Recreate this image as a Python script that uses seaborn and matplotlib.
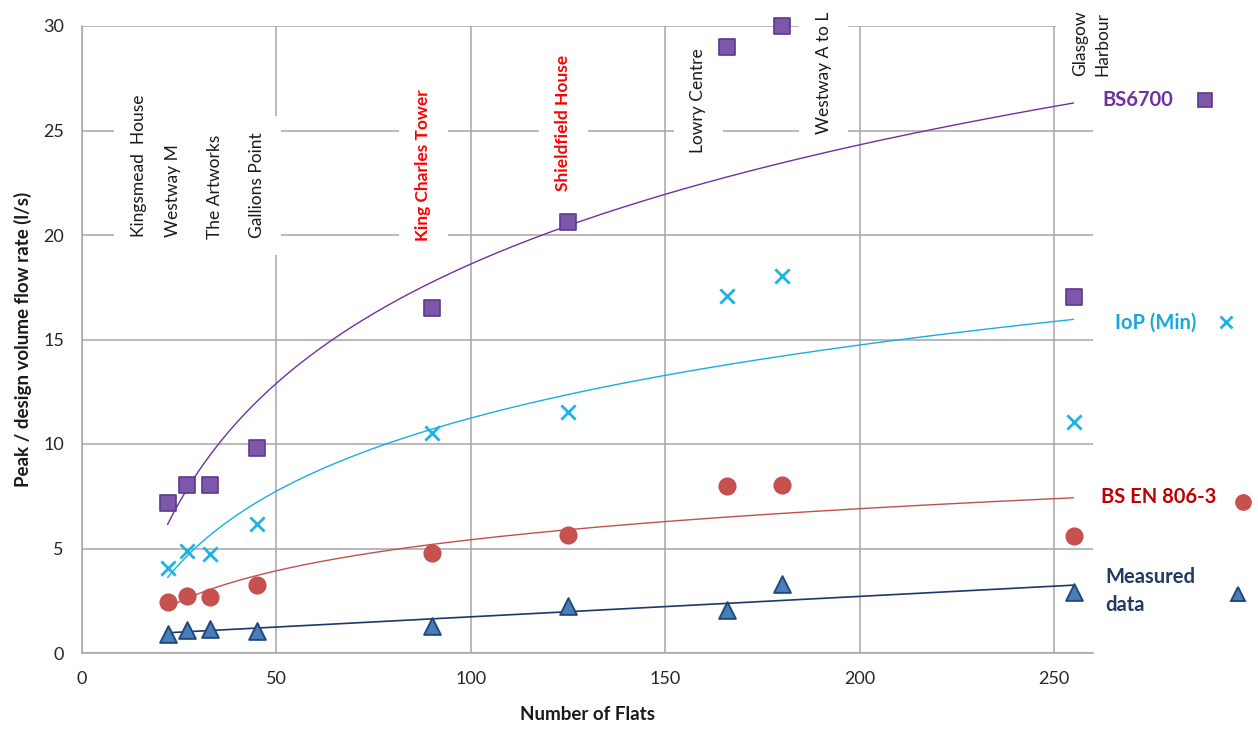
import numpy as np
import pandas as pd
import matplotlib
matplotlib.use("Agg")
import matplotlib.pyplot as plt
import seaborn as sns
from matplotlib.lines import Line2D
from matplotlib.ticker import MultipleLocator

# ---------------- data ----------------
flats = [22, 27, 33, 45, 90, 125, 166, 180, 255]
bs6700 = [7.2, 8.05, 8.05, 9.8, 16.5, 20.6, 29.0, 30.0, 17.05]
iop_min = [4.05, 4.9, 4.75, 6.15, 10.55, 11.55, 17.1, 18.05, 11.05]
bsen806 = [2.45, 2.75, 2.7, 3.25, 4.8, 5.65, 8.0, 8.05, 5.6]
measured = [0.9, 1.1, 1.15, 1.05, 1.3, 2.25, 2.05, 3.3, 2.9]

buildings = ["Kingsmead  House", "Westway M", "The Artworks", "Gallions Point",
             "King Charles Tower", "Shieldfield House", "Lowry Centre",
             "Westway A to L", "Glasgow\nHarbour"]
highlight = ["King Charles Tower", "Shieldfield House"]
series_names = ["BS6700", "IoP (Min)", "BS EN 806-3", "Measured\ndata"]
x_ticks = [0, 50, 100, 150, 200, 250]
y_ticks = [0, 5, 10, 15, 20, 25, 30]
x_label = "Number of Flats"
y_label = "Peak / design volume flow rate (l/s)"

# ---------------- layout (positions only) ----------------
label_pos = [(14.6, 19.9), (23.4, 19.9), (34.1, 19.8), (44.9, 19.85),
             (87.7, 19.7), (123.8, 22.1), (158.5, 23.9), (190.8, 24.85),
             (259.6, 27.6)]

sns.set_style("white")
plt.rcParams['font.family'] = ['Lato', 'DejaVu Sans']

W, H = 1258, 731
fig = plt.figure(figsize=(W / 100, H / 100), dpi=100)
ax = fig.add_axes([82 / W, 1 - 653 / H, (1093 - 82) / W, (653 - 26) / H])

grid_c = '#a6a6a6'
ax.set_axisbelow(True)
ax.grid(True, which='major', color=grid_c, lw=1.1)
for s in ['top', 'right']:
    ax.spines[s].set_visible(False)
for s in ['left', 'bottom']:
    ax.spines[s].set_color(grid_c)
    ax.spines[s].set_linewidth(1.1)

ax.set_xlim(0, 260)
ax.set_ylim(0, 30)
ax.set_xticks(x_ticks)
ax.set_yticks(y_ticks)
ax.xaxis.set_minor_locator(MultipleLocator(10))
ax.yaxis.set_minor_locator(MultipleLocator(1))
ax.tick_params(axis='both', which='both', direction='out', color=grid_c,
               width=1.1, labelcolor='#262626', labelsize=13)
ax.tick_params(axis='both', which='major', length=7, pad=6)
ax.tick_params(axis='both', which='minor', length=6)

ax.set_xlabel(x_label, fontsize=13.5, fontweight='bold', labelpad=14, color='#1a1a1a')
ax.set_ylabel(y_label, fontsize=13.5, fontweight='bold', labelpad=8, color='#1a1a1a')

# ---------------- trend lines (fits of the data) ----------------
fx = np.asarray(flats, dtype=float)
xs = np.linspace(fx.min(), fx.max(), 300)

def log_fit(y):
    a, b = np.polyfit(np.log(fx), np.asarray(y, float), 1)
    return a * np.log(xs) + b

lin_a, lin_b = np.polyfit(fx, np.asarray(measured, float), 1)

sns.lineplot(x=xs, y=log_fit(bs6700), color='#7030a0', lw=1.0, ax=ax, zorder=4)
sns.lineplot(x=xs, y=log_fit(iop_min), color='#1aaee0', lw=1.0, ax=ax, zorder=4)
sns.lineplot(x=xs, y=log_fit(bsen806), color='#c0504d', lw=1.0, ax=ax, zorder=4)
sns.lineplot(x=xs, y=lin_a * xs + lin_b, color='#1f3864', lw=1.2, ax=ax, zorder=4)

# ---------------- points ----------------
sq_face, sq_edge = '#7e57aa', '#5b3a8c'
x_col = '#1fb2e2'
c_face, c_edge = '#c8504d', '#c0504d'
t_face, t_edge = '#4a7ebb', '#1f497d'

sns.scatterplot(x=flats, y=bs6700, marker='s', s=125, color=sq_face,
                edgecolor=sq_edge, linewidth=1.2, ax=ax, zorder=6, clip_on=False)
sns.scatterplot(x=flats, y=iop_min, marker='x', s=105, color=x_col,
                linewidth=2.0, ax=ax, zorder=6, clip_on=False)
sns.scatterplot(x=flats, y=bsen806, marker='o', s=145, color=c_face,
                edgecolor=c_edge, linewidth=1.0, ax=ax, zorder=6, clip_on=False)
sns.scatterplot(x=flats, y=measured, marker='^', s=145, color=t_face,
                edgecolor=t_edge, linewidth=1.4, ax=ax, zorder=6, clip_on=False)

# ---------------- building labels ----------------
for name, (lx, ly) in zip(buildings, label_pos):
    red = name in highlight
    ax.text(lx, ly, name, rotation=90, ha='center', va='bottom',
            multialignment='left', fontsize=12.5,
            color='#ff0000' if red else '#1a1a1a',
            fontweight='bold' if red else 'normal', linespacing=1.45,
            bbox=dict(boxstyle='square,pad=0.95', facecolor='white', edgecolor='none'),
            zorder=3, clip_on=False)

# ---------------- side legend ----------------
leg_specs = [
    (series_names[0], 1102, 100, '#7030a0', (1205, 100), dict(marker='s', ms=10, mfc=sq_face, mec=sq_edge, mew=1.2)),
    (series_names[1], 1115, 323, '#1aa7dc', (1226, 322), dict(marker='x', ms=9, mec=x_col, mew=2.0)),
    (series_names[2], 1101, 497, '#c00000', (1243, 502), dict(marker='o', ms=11, mfc=c_face, mec=c_edge, mew=1.0)),
    (series_names[3], 1105, 591, '#1f3864', (1238, 594), dict(marker='^', ms=10, mfc=t_face, mec=t_edge, mew=1.4)),
]
for txt, tx, ty, col, (mx, my), mk in leg_specs:
    fig.text(tx / W, 1 - ty / H, txt, ha='left', va='center', fontsize=14.5,
             fontweight='bold', color=col, linespacing=1.45)
    fig.add_artist(Line2D([mx / W], [1 - my / H], transform=fig.transFigure,
                          linestyle='none', **mk))

fig.savefig('out.png', dpi=100)
